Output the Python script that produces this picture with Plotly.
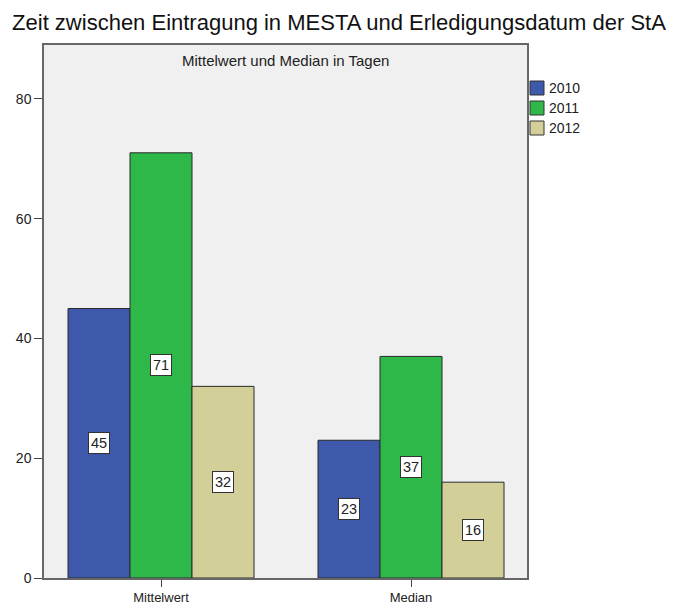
import plotly.graph_objects as go

categories = ["Mittelwert", "Median"]
years = ["2010", "2011", "2012"]
values_2010 = [45, 23]
values_2011 = [71, 37]
values_2012 = [32, 16]
y_ticks = [0, 20, 40, 60, 80]

series = [values_2010, values_2011, values_2012]
colors = ["#3e58ab", "#2eb84a", "#d3cf99"]

FONT = "Liberation Sans, Arial, sans-serif"
W, H = 678, 608
L, R, T, B = 44, 151, 45, 30
PW, PH = W - L - R, H - T - B

fig = go.Figure()
for name, vals, col in zip(years, series, colors):
    fig.add_trace(go.Bar(
        x=categories, y=vals, name=name,
        marker=dict(color=col, line=dict(color="#2a2a2a", width=1)),
        hoverinfo="x+y+name",
    ))

bargap = 0.256
bw = (1 - bargap) / len(years)
annotations = []
for i, vals in enumerate(series):
    off = (i - (len(years) - 1) / 2) * bw
    for j, v in enumerate(vals):
        annotations.append(dict(
            x=j + off, y=v / 2, xref="x", yref="y",
            text=str(v), showarrow=False,
            font=dict(family=FONT, size=14.5, color="#222"),
            bgcolor="white", bordercolor="#333", borderwidth=1, borderpad=2,
        ))

annotations.append(dict(
    x=0.5, y=1, xref="paper", yref="paper", yanchor="top", yshift=-5,
    text="Mittelwert und Median in Tagen", showarrow=False,
    font=dict(family=FONT, size=15, color="#222"),
))

# custom legend (built from years / colors)
shapes = []
for k, (name, col) in enumerate(zip(years, colors)):
    top_px = 81 + 20 * k
    y0 = (H - B - (top_px + 14)) / PH
    y1 = (H - B - top_px) / PH
    x0 = (530 - L) / PW
    x1 = (544 - L) / PW
    shapes.append(dict(type="rect", xref="paper", yref="paper",
                       x0=x0, x1=x1, y0=y0, y1=y1,
                       fillcolor=col, line=dict(color="#333", width=1)))
    annotations.append(dict(x=(547 - L) / PW, y=(y0 + y1) / 2, xref="paper", yref="paper",
                            xanchor="left", yanchor="middle", text=name, showarrow=False,
                            font=dict(family=FONT, size=14, color="#222")))

fig.update_layout(
    width=W, height=H,
    margin=dict(l=L, r=R, t=T, b=B),
    paper_bgcolor="white", plot_bgcolor="#f0f0f0",
    barmode="group", bargap=bargap, bargroupgap=0,
    title=dict(text="Zeit zwischen Eintragung in MESTA und Erledigungsdatum der StA",
               x=0.5, xanchor="center", y=1 - 22 / H, yanchor="middle",
               font=dict(family=FONT, size=22, color="#111")),
    font=dict(family=FONT, size=12, color="#222"),
    showlegend=False,
    annotations=annotations,
    shapes=shapes,
)
fig.update_xaxes(
    range=[-0.468, 1.464], showgrid=False, showline=True, linecolor="#666",
    linewidth=1.5, mirror=True, ticks="outside", ticklen=7, tickcolor="#444",
    tickfont=dict(family=FONT, size=13, color="#222"), automargin=False,
)
fig.update_yaxes(
    range=[0, 89], tickvals=y_ticks, showgrid=False, zeroline=False,
    showline=True, linecolor="#666", linewidth=1.5, mirror=True,
    ticks="outside", ticklen=8, tickcolor="#444",
    tickfont=dict(family=FONT, size=14, color="#222"), automargin=False,
)

fig.write_html("out.html", config={"displayModeBar": False},
               post_script="document.body.style.margin='0';")
